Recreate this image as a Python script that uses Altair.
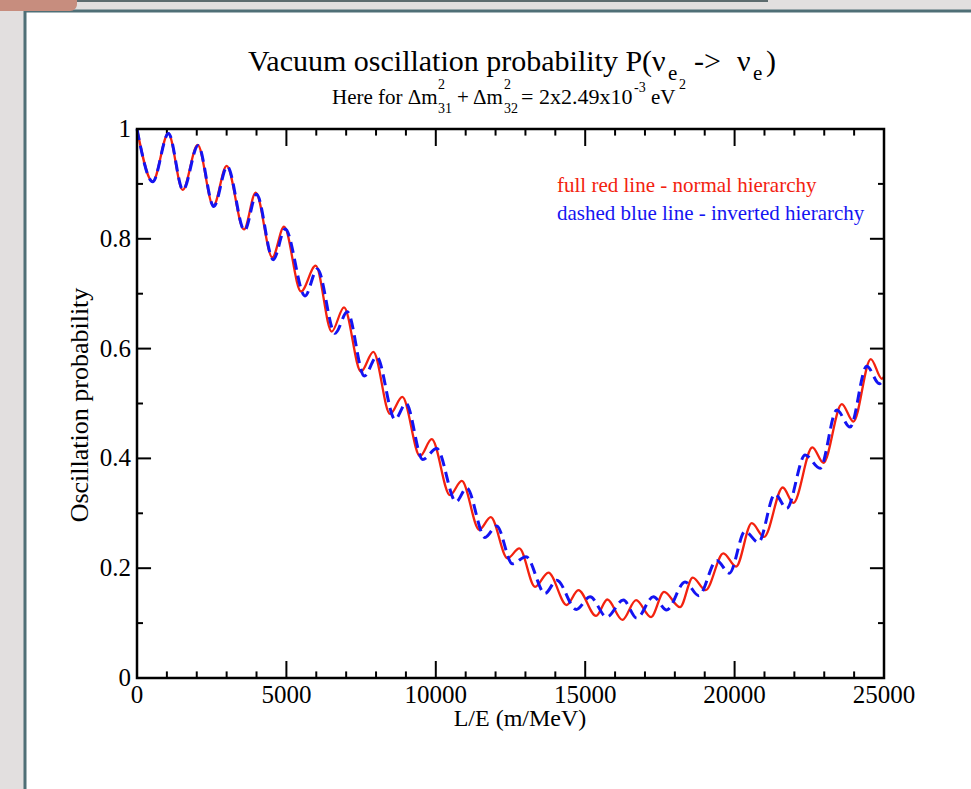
import altair as alt
import pandas as pd

SERIF = "Liberation Serif"
RED = "#f3220f"
BLUE = "#1414f2"

# ---- data (peaks / troughs of each curve) ----
normal_le = [0, 525, 1048, 1529, 2030, 2555, 3001, 3581, 3972, 4530, 4920, 5490, 5980,
             6516, 6928, 7497, 7910, 8468, 8880, 9472, 9863, 10476, 10867, 11457, 11838,
             12400, 12796, 13322, 13768, 14382, 14771, 15363, 15741, 16244, 16702, 17204,
             17639, 18174, 18600, 19030, 19624, 20049, 20574, 20987, 21612, 21967, 22603,
             22971, 23587, 23975, 24557, 24930, 25000]
normal_p = [1.0, 0.904, 0.992, 0.889, 0.971, 0.860, 0.933, 0.817, 0.884, 0.766, 0.822,
            0.704, 0.751, 0.631, 0.675, 0.558, 0.594, 0.481, 0.512, 0.404, 0.435, 0.333,
            0.359, 0.270, 0.293, 0.218, 0.236, 0.166, 0.192, 0.133, 0.160, 0.113, 0.143,
            0.106, 0.142, 0.111, 0.157, 0.129, 0.183, 0.160, 0.227, 0.203, 0.282, 0.257,
            0.347, 0.319, 0.420, 0.392, 0.499, 0.467, 0.581, 0.545, 0.549]

inverted_le = [0, 525, 1055, 1540, 2045, 2570, 3020, 3600, 4000, 4560, 4960, 5623, 6035,
               6627, 7039, 7608, 8022, 8635, 9003, 9562, 10031, 10677, 11034, 11647, 12039,
               12560, 13019, 13656, 14047, 14700, 15162, 15720, 16278, 16725, 17281, 17729,
               18341, 18800, 19402, 19826, 20350, 20797, 21352, 21744, 22360, 22861, 23420,
               23865, 24423, 24845, 25000]
inverted_p = [1.0, 0.904, 0.992, 0.889, 0.970, 0.859, 0.932, 0.815, 0.881, 0.762, 0.818,
              0.696, 0.745, 0.628, 0.667, 0.550, 0.585, 0.471, 0.500, 0.398, 0.418, 0.321,
              0.346, 0.256, 0.277, 0.208, 0.221, 0.154, 0.178, 0.125, 0.148, 0.111, 0.142,
              0.109, 0.148, 0.124, 0.175, 0.150, 0.214, 0.191, 0.267, 0.247, 0.335, 0.309,
              0.406, 0.382, 0.488, 0.457, 0.568, 0.536, 0.546]

x_major = [0, 5000, 10000, 15000, 20000, 25000]
x_labels = ["0", "5000", "10000", "15000", "20000", "25000"]
x_minor = [1000, 2000, 3000, 4000, 6000, 7000, 8000, 9000, 11000, 12000, 13000, 14000,
           16000, 17000, 18000, 19000, 21000, 22000, 23000, 24000]
y_major = [0, 0.2, 0.4, 0.6, 0.8, 1.0]
y_labels = ["0", "0.2", "0.4", "0.6", "0.8", "1"]
y_minor = [0.1, 0.3, 0.5, 0.7, 0.9]

legend_normal = "full red line - normal hierarchy"
legend_inverted = "dashed blue line - inverted hierarchy"
x_title = "L/E (m/MeV)"
y_title = "Oscillation probability"

# ---- layout ----
W, H = 747, 549
OX, OY = 137, 129

xsc = alt.Scale(domain=[0, 25000], nice=False, zero=False)
ysc = alt.Scale(domain=[0, 1], nice=False, zero=False)
one = pd.DataFrame({"k": [0]})


def px(v):
    return alt.value(v - OX)


def py(v):
    return alt.value(v - OY)


def txt(s, x, y, size, color="black", align="left", baseline="alphabetic", angle=0):
    return alt.Chart(one).mark_text(
        text=s, align=align, baseline=baseline, font=SERIF,
        fontSize=size, color=color, angle=angle
    ).encode(x=px(x), y=py(y))


panel = alt.Chart(one).mark_rect(fill="white", stroke="#4f6f76", strokeWidth=3).encode(
    x=px(25), x2=px(1000), y=py(11), y2=py(820))
blob = alt.Chart(one).mark_rect(fill="#c78d7e", cornerRadius=7).encode(
    x=px(-10), x2=px(77), y=py(-10), y2=py(11))
topline = alt.Chart(one).mark_rule(color="#5d6b6e", strokeWidth=2).encode(
    x=px(77), x2=px(768), y=py(1))


def xticks(values, a, b):
    return alt.Chart(pd.DataFrame({"v": values})).transform_calculate(
        a=str(a), b=str(b)
    ).mark_rule(color="black", strokeWidth=2).encode(
        x=alt.X("v:Q", scale=xsc, axis=None),
        y=alt.Y("a:Q", scale=ysc, axis=None), y2="b:Q")


def yticks(values, a, b):
    return alt.Chart(pd.DataFrame({"v": values})).transform_calculate(
        a=str(a), b=str(b)
    ).mark_rule(color="black", strokeWidth=2).encode(
        y=alt.Y("v:Q", scale=ysc, axis=None),
        x=alt.X("a:Q", scale=xsc, axis=None), x2="b:Q")


ticks = [
    xticks(x_major, 0, 0.031), xticks(x_major, 1, 0.969),
    xticks(x_minor, 0, 0.012), xticks(x_minor, 1, 0.988),
    yticks(y_major, 0, 470), yticks(y_major, 25000, 24530),
    yticks(y_minor, 0, 200), yticks(y_minor, 25000, 24800),
]

xlab = alt.Chart(pd.DataFrame({"v": x_major, "t": x_labels})).mark_text(
    font=SERIF, fontSize=25, baseline="middle", align="center", color="black"
).encode(x=alt.X("v:Q", scale=xsc, axis=None), y=alt.value(H + 17), text="t:N")

ylab = alt.Chart(pd.DataFrame({"v": y_major, "t": y_labels})).mark_text(
    font=SERIF, fontSize=25, baseline="middle", align="right", color="black"
).encode(y=alt.Y("v:Q", scale=ysc, axis=None), x=alt.value(-6), text="t:N")

frame = alt.Chart(one).mark_rect(fillOpacity=0, stroke="black", strokeWidth=2.5).encode(
    x=alt.value(0), x2=alt.value(W), y=alt.value(0), y2=alt.value(H))

red = alt.Chart(pd.DataFrame({"le": normal_le, "p": normal_p})).mark_line(
    color=RED, strokeWidth=2.3, interpolate="monotone"
).encode(
    x=alt.X("le:Q", scale=xsc, axis=None),
    y=alt.Y("p:Q", scale=ysc, axis=None),
)

blue = alt.Chart(pd.DataFrame({"le": inverted_le, "p": inverted_p})).mark_line(
    color=BLUE, strokeWidth=3, strokeDash=[11, 6], interpolate="monotone"
).encode(
    x=alt.X("le:Q", scale=xsc, axis=None),
    y=alt.Y("p:Q", scale=ysc, axis=None),
)

texts = [
    txt(legend_normal, 557, 192, 21, RED),
    txt(legend_inverted, 557, 220, 21, BLUE),
    txt(x_title, 520, 719, 24, baseline="middle", align="center"),
    txt(y_title, 80, 405, 26, baseline="middle", align="center", angle=270),
    # title
    txt("Vacuum oscillation probability P(", 248, 71, 30),
    txt("\u03bd", 652, 71, 30),
    txt("e", 668, 80, 21),
    txt("->", 694, 71, 30),
    txt("\u03bd", 737, 71, 30),
    txt("e", 753, 80, 21),
    txt(")", 766, 71, 30),
    # subtitle
    txt("Here for \u0394m", 332, 104, 21),
    txt("2", 438, 89, 14),
    txt("31", 438, 113, 14),
    txt("+ \u0394m", 457, 104, 21),
    txt("2", 504, 89, 14),
    txt("32", 504, 113, 14),
    txt("= 2x2.49x10", 521, 104, 22),
    txt("-3", 634, 92, 14),
    txt("eV", 651, 104, 21),
    txt("2", 679, 89, 14),
]

chart = alt.layer(panel, blob, topline, *ticks, red, blue, frame, xlab, ylab, *texts).properties(
    width=W, height=H,
    background="#e2dfdf",
    padding={"left": OX, "top": OY, "right": 971 - OX - W, "bottom": 789 - OY - H},
    autosize=alt.AutoSizeParams(type="none"),
).configure_view(strokeWidth=0)

chart.save("out.html", embed_options={"renderer": "svg", "actions": False})
